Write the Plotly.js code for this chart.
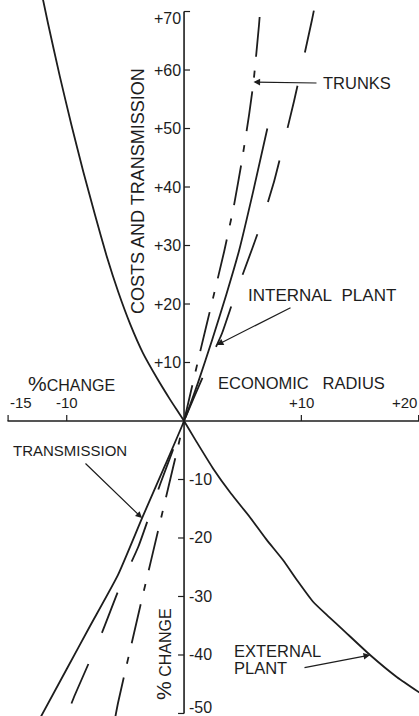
<!DOCTYPE html>
<html>
<head>
<meta charset="utf-8">
<script src="https://cdn.plot.ly/plotly-3.0.1.min.js"></script>
<style>
  html, body { margin: 0; padding: 0; background: #ffffff; }
  #chart { width: 419px; height: 716px; }
</style>
</head>
<body>
<div id="chart"></div>
<script>
// Percentage change in plant costs and transmission against percentage change in economic radius.

// External plant cost (solid, falling)
const externalPlantX = [-12.6, -11.6, -10.6, -9.6, -8.6, -7.6, -6.6, -5.6, -4.6, -3.5, -2.3, -1.2, 0, 1.2, 2.5, 4.0, 5.6, 7.0, 8.45, 9.7, 11.0, 12.3, 13.55, 15.86, 18.16, 20.2];
const externalPlantY = [77.5, 68.0, 59.0, 50.6, 42.7, 35.3, 28.2, 22.0, 16.6, 11.6, 7.3, 3.7, 0, -4.0, -8.2, -12.4, -16.4, -20.2, -23.8, -27.4, -30.9, -33.4, -35.7, -40.0, -43.8, -46.6];

// Internal plant cost (long dashes)
const internalPlantX = [-9.6, -9.3, -7.0, -5.5, -3.9, -2.0, 0, 1.79, 2.8, 3.24, 4.35, 5.8, 6.65, 7.67, 8.53, 9.38, 10.9, 11.2];
const internalPlantY = [-48.3, -46.8, -36.2, -28.5, -21.5, -10.6, 0, 8.4, 13.0, 15.0, 21.5, 29.4, 34.2, 40.9, 47.7, 54.7, 68.5, 71.5];

// Trunk cost (dash-dot)
const trunksX = [-5.85, -5.63, -3.75, -1.9, 0, 1.45, 2.47, 3.41, 4.26, 4.94, 5.54, 5.92, 6.39, 6.52];
const trunksY = [-50.5, -48.2, -31.8, -16.1, 0, 12.5, 21.0, 28.9, 36.9, 44.6, 52.3, 57.95, 67.7, 71.1];

// Transmission (solid, rising)
const transmissionX = [-12.3, -10.0, -8.0, -5.63, -3.58, -1.62, 0, 1.2, 2.4, 3.6, 4.7, 5.9, 7.1];
const transmissionY = [-50.9, -42.4, -35.0, -26.3, -16.6, -7.6, 0, 6.6, 13.9, 21.6, 29.2, 39.3, 50.0];

// Axis ticks
const xTickVals = [-15, -10, 10, 20];
const xTickText = ['-15', '-10', '+10', '+20'];
const yTickValsUp = [10, 20, 30, 40, 50, 60, 70];
const yTickTextUp = ['+10', '+20', '+30', '+40', '+50', '+60', '+70'];
const yTickValsDown = [-10, -20, -30, -40, -50];
const yTickTextDown = ['-10', '-20', '-30', '-40', '-50'];

const W = 419, H = 716;
const X_RANGE = [-15.69, 20.03];
const Y_RANGE = [-50.43, 71.97];
const INK = '#1d1d1d';
const FONT = 'Liberation Sans, Arial, Helvetica, sans-serif';

const dataX = px => X_RANGE[0] + px / W * (X_RANGE[1] - X_RANGE[0]);
const dataY = py => Y_RANGE[1] - py / H * (Y_RANGE[1] - Y_RANGE[0]);

function curve(xs, ys, dash) {
  return {
    x: xs, y: ys, type: 'scatter', mode: 'lines',
    line: { color: INK, width: 1.8, dash: dash, shape: 'spline', smoothing: 0.5 },
    hoverinfo: 'skip', showlegend: false
  };
}

const traces = [
  curve(externalPlantX, externalPlantY, 'solid'),
  curve(transmissionX, transmissionY, 'solid'),
  curve(internalPlantX, internalPlantY, '43px,34px'),
  curve(trunksX, trunksY, '40px,14px,7px,14px')
];

// Axes crossing at the origin
const shapes = [
  { type: 'line', xref: 'x', yref: 'y', x0: xTickVals[0] - 0.05, x1: X_RANGE[1], y0: 0, y1: 0,
    line: { color: INK, width: 1.6 } },
  { type: 'line', xref: 'x', yref: 'y', x0: 0, x1: 0,
    y0: yTickValsDown[yTickValsDown.length - 1], y1: yTickValsUp[yTickValsUp.length - 1],
    line: { color: INK, width: 1.6 } }
];
xTickVals.forEach(v => shapes.push({
  type: 'line', xref: 'x', yref: 'y', x0: v, x1: v,
  ysizemode: 'pixel', yanchor: 0, y0: 0, y1: 6,
  line: { color: INK, width: 1.2 }
}));
yTickValsUp.forEach(v => shapes.push({
  type: 'line', xref: 'x', yref: 'y', y0: v, y1: v,
  xsizemode: 'pixel', xanchor: 0, x0: 0, x1: 6,
  line: { color: INK, width: 1.2 }
}));
yTickValsDown.forEach(v => shapes.push({
  type: 'line', xref: 'x', yref: 'y', y0: v, y1: v,
  xsizemode: 'pixel', xanchor: 0, x0: -6, x1: 0,
  line: { color: INK, width: 1.2 }
}));

const annotations = [];

// Tick labels
xTickVals.forEach((v, i) => annotations.push({
  x: v, y: 0, xref: 'x', yref: 'y', text: xTickText[i], showarrow: false,
  xanchor: i === 0 ? 'left' : (i === xTickVals.length - 1 ? 'right' : 'center'),
  yanchor: 'middle', yshift: 19,
  font: { family: FONT, size: 15, color: INK }
}));
yTickValsUp.forEach((v, i) => annotations.push({
  x: 0, y: v, xref: 'x', yref: 'y', text: yTickTextUp[i], showarrow: false,
  xanchor: 'right', yanchor: 'middle', xshift: -1,
  // the top label sits just under the end of the axis
  yshift: i === yTickValsUp.length - 1 ? -7 : 0,
  font: { family: FONT, size: 16, color: INK }
}));
yTickValsDown.forEach((v, i) => annotations.push({
  x: 0, y: v, xref: 'x', yref: 'y', text: yTickTextDown[i], showarrow: false,
  xanchor: 'left', yanchor: 'middle', xshift: 3,
  // the bottom label is lifted clear of the page edge
  yshift: i === yTickValsDown.length - 1 ? 6 : 0,
  font: { family: FONT, size: 16, color: INK }
}));

// Free text placed in page pixels
function label(text, px, py, size, anchor, angle) {
  return {
    x: px / W, y: 1 - py / H, xref: 'paper', yref: 'paper', text: text,
    showarrow: false, xanchor: anchor || 'left', yanchor: 'middle',
    textangle: angle || 0, align: 'left',
    font: { family: FONT, size: size, color: INK }
  };
}
annotations.push(
  label('COSTS AND TRANSMISSION', 138, 191, 18, 'center', -90),
  label('<span style="font-size:21px">%</span> CHANGE', 163, 654, 16, 'center', -90),
  label('<span style="font-size:21px">%</span>CHANGE', 26, 383, 16, 'left'),
  label('ECONOMIC&nbsp;&nbsp;&nbsp;RADIUS', 216, 383, 16.5, 'left'),
  label('TRUNKS', 321, 83, 16.5, 'left'),
  label('INTERNAL&nbsp;&nbsp;PLANT', 246, 295, 17, 'left'),
  label('TRANSMISSION', 11, 450, 15, 'left'),
  label('EXTERNAL', 232, 651, 16.5, 'left'),
  label('PLANT', 232, 668, 16.5, 'left')
);

// Leader arrows from the labels to their curves
function pointer(tipX, tipY, tailPx, tailPy) {
  return {
    x: tipX, y: tipY, xref: 'x', yref: 'y',
    ax: dataX(tailPx), ay: dataY(tailPy), axref: 'x', ayref: 'y',
    text: '', showarrow: true, arrowhead: 2, arrowsize: 1.1, arrowwidth: 1.2,
    arrowcolor: INK, standoff: 0, startstandoff: 0
  };
}
const iTrunk = trunksX.indexOf(5.92);
const iInternal = internalPlantX.indexOf(2.8);
const iTrans = transmissionX.indexOf(-3.58);
const iExternal = externalPlantX.indexOf(15.86);
annotations.push(
  pointer(trunksX[iTrunk], trunksY[iTrunk], 318, 83),
  pointer(internalPlantX[iInternal], internalPlantY[iInternal], 292, 307),
  pointer(transmissionX[iTrans], transmissionY[iTrans], 84, 462),
  pointer(externalPlantX[iExternal], externalPlantY[iExternal], 303, 668)
);

const layout = {
  width: W, height: H,
  margin: { l: 0, r: 0, t: 0, b: 0, pad: 0 },
  paper_bgcolor: '#ffffff', plot_bgcolor: '#ffffff',
  xaxis: { range: X_RANGE, visible: false, fixedrange: true },
  yaxis: { range: Y_RANGE, visible: false, fixedrange: true },
  shapes: shapes,
  annotations: annotations,
  showlegend: false
};

Plotly.newPlot('chart', traces, layout, { staticPlot: true, displayModeBar: false });
</script>
</body>
</html>
